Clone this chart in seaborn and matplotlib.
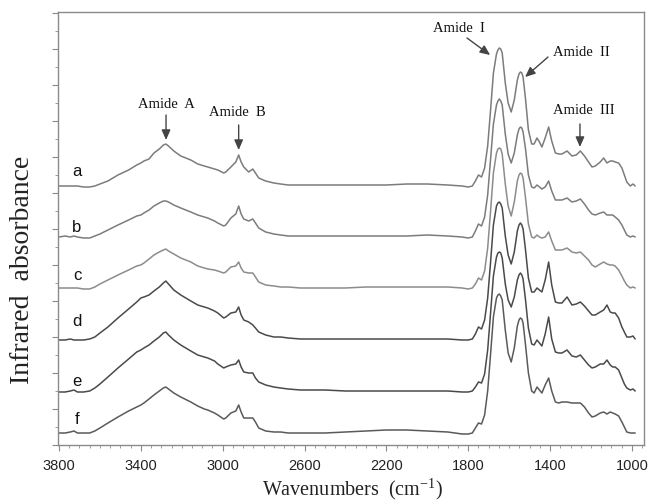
import numpy as np
import pandas as pd
import matplotlib
matplotlib.use("Agg")
import matplotlib.pyplot as plt
from matplotlib.ticker import MultipleLocator, NullFormatter
import seaborn as sns

# Wavenumber grid (cm-1) shared by all spectra
wavenumber = [
    3800, 3770, 3745, 3727, 3710, 3680, 3650, 3625, 3600, 3561, 3512, 3460, 3420, 3400, 3385,
    3360, 3336, 3310, 3290, 3278, 3265, 3239, 3205, 3156, 3122, 3090, 3073, 3040, 3024, 2995,
    2985, 2960, 2936, 2922, 2910, 2897, 2873, 2853, 2840, 2824, 2790, 2750, 2717, 2680, 2620,
    2500, 2400, 2300, 2200, 2100, 2000, 1900, 1830,
    1800, 1780, 1765, 1750, 1735, 1720, 1705, 1692, 1677, 1662, 1655, 1648, 1641, 1634, 1619,
    1605, 1590, 1575, 1560, 1552, 1545, 1538, 1532, 1520, 1506, 1490, 1478, 1464, 1452, 1440,
    1424, 1407, 1392, 1374, 1358, 1342, 1317, 1293, 1272, 1252, 1232, 1212, 1195, 1179, 1155,
    1138, 1122, 1106, 1094, 1082, 1065, 1049, 1037, 1025, 1008, 995, 984,
]

# Absorbance of each sample (arbitrary units)
spec_a = [
    0, 0, 0, 0, 0, -1, -1, 0, 2, 5, 11, 16, 21, 23, 25,
    27, 33, 37, 41, 42, 40, 35, 30, 26, 22, 20, 19, 17, 16, 13,
    14, 19, 24, 31, 24, 19, 14, 17, 13, 8, 5, 3, 2, 1, 1,
    1, 1, 1, 1, 2, 2, 1, 0,
    -1, 0, 5, 11, 9, 18, 40, 73, 113, 132, 136, 138, 137, 133, 103,
    83, 74, 86, 106, 112, 114, 113, 109, 87, 56, 42, 42, 48, 44, 39,
    48, 59, 45, 33, 32, 32, 35, 30, 31, 35, 30, 24, 19, 20, 24,
    28, 23, 25, 25, 24, 23, 18, 11, 4, 0, 2, 0,
]
spec_b = [
    0, 1, 0, 1, 0, -1, -1, 1, 3, 7, 12, 17, 21, 22, 24,
    27, 31, 34, 36, 36, 35, 32, 29, 25, 22, 20, 19, 16, 14, 11,
    12, 19, 23, 31, 23, 18, 16, 18, 14, 9, 5, 3, 2, 1, 1,
    1, 1, 1, 1, 1, 2, 1, 0,
    -1, 0, 6, 13, 11, 20, 42, 75, 113, 132, 136, 138, 136, 132, 103,
    83, 74, 84, 102, 108, 110, 109, 105, 88, 62, 50, 49, 52, 50, 48,
    50, 56, 46, 37, 37, 37, 39, 35, 36, 38, 33, 27, 23, 22, 24,
    25, 22, 22, 22, 20, 17, 12, 7, 2, 0, 1, 0,
]
spec_c = [
    0, 0, 0, 0, 0, -1, -1, 1, 4, 8, 13, 18, 22, 23, 25,
    29, 33, 36, 38, 39, 37, 34, 30, 26, 22, 20, 19, 18, 17, 15,
    16, 21, 22, 26, 20, 16, 15, 15, 11, 6, 3, 2, 1, 1, 0,
    0, 0, 1, 1, 1, 1, 1, 0,
    -1, 0, 4, 10, 8, 17, 40, 74, 115, 135, 139, 140, 139, 134, 104,
    82, 72, 86, 107, 113, 115, 114, 110, 90, 64, 51, 50, 53, 51, 50,
    51, 56, 47, 38, 38, 38, 40, 36, 35, 36, 32, 28, 23, 21, 24,
    26, 24, 23, 23, 22, 18, 12, 7, 3, 0, 1, 0,
]
spec_d = [
    0, 0, 1, 0, 0, 0, 1, 3, 7, 13, 22, 31, 38, 42, 43,
    45, 49, 53, 57, 59, 56, 50, 45, 39, 35, 33, 32, 29, 27, 22,
    23, 27, 28, 33, 25, 20, 18, 15, 12, 8, 5, 3, 3, 2, 1,
    1, 1, 1, 1, 1, 1, 1, 0,
    0, 1, 6, 13, 11, 20, 42, 75, 115, 134, 137, 138, 136, 132, 104,
    85, 76, 88, 109, 115, 117, 115, 111, 90, 62, 48, 48, 52, 50, 48,
    60, 78, 55, 38, 37, 37, 43, 35, 36, 38, 34, 29, 25, 25, 28,
    30, 35, 28, 27, 27, 22, 13, 8, 3, 3, 4, 1,
]
spec_e = [
    0, 0, 1, 2, 0, 0, 1, 4, 8, 15, 24, 33, 40, 42, 44,
    47, 51, 55, 59, 60, 57, 52, 47, 41, 37, 35, 34, 31, 28, 24,
    25, 27, 28, 32, 25, 20, 19, 19, 14, 10, 7, 5, 4, 3, 2,
    2, 1, 1, 1, 1, 1, 1, 0,
    0, 1, 5, 10, 9, 18, 42, 76, 116, 135, 139, 140, 139, 134, 108,
    92, 85, 95, 112, 117, 119, 117, 113, 92, 64, 48, 47, 52, 49, 46,
    58, 75, 53, 40, 39, 39, 42, 36, 35, 37, 32, 27, 24, 25, 28,
    28, 32, 27, 25, 25, 22, 14, 8, 4, 2, 3, 1,
]
spec_f = [
    0, 0, 1, 2, 0, 0, 0, 2, 5, 10, 16, 22, 26, 28, 30,
    34, 38, 42, 45, 46, 44, 40, 36, 31, 27, 24, 23, 20, 18, 14,
    15, 20, 22, 28, 21, 15, 15, 15, 11, 5, 2, 1, 1, 0, 0,
    0, 1, 2, 3, 3, 2, 1, -1,
    -1, 0, 5, 10, 9, 18, 42, 76, 116, 135, 138, 139, 137, 133, 103,
    80, 71, 85, 107, 113, 115, 114, 110, 88, 60, 42, 40, 46, 43, 40,
    48, 55, 42, 31, 30, 31, 31, 30, 30, 30, 26, 20, 16, 17, 20,
    21, 19, 21, 20, 19, 17, 11, 6, 1, 0, 0, 0,
]

samples = ["a", "b", "c", "d", "e", "f"]
spectra = [spec_a, spec_b, spec_c, spec_d, spec_e, spec_f]
# vertical stacking of the traces
offsets = [259, 208, 157, 105, 53, 12]
colors = ["#7c7c7c", "#7c7c7c", "#8c8c8c", "#4a4a4a", "#4a4a4a", "#5a5a5a"]

frames = []
for name, spec, off in zip(samples, spectra, offsets):
    frames.append(pd.DataFrame({
        "wavenumber": wavenumber,
        "absorbance": np.asarray(spec, dtype=float) + off,
        "sample": name,
    }))
df = pd.concat(frames, ignore_index=True)

sns.set_theme(style="ticks")
plt.rcParams["font.family"] = ["Liberation Sans", "DejaVu Sans"]

fig = plt.figure(figsize=(6.57, 5.03), dpi=100)
ax = fig.add_axes([58 / 657, 58 / 503, 586 / 657, 433 / 503])

sns.lineplot(data=df, x="wavenumber", y="absorbance", hue="sample",
             palette=dict(zip(samples, colors)), sort=False, estimator=None,
             legend=False, linewidth=1.1, ax=ax)

ax.set_xlim(3805, 941)
ax.set_ylim(0, 433)
ax.xaxis.set_major_locator(MultipleLocator(400))
ax.xaxis.set_minor_locator(MultipleLocator(50))
ax.yaxis.set_major_locator(MultipleLocator(36))
ax.yaxis.set_minor_locator(MultipleLocator(18))
ax.yaxis.set_major_formatter(NullFormatter())
ax.set_xticks([3800, 3400, 3000, 2600, 2200, 1800, 1400, 1000])

for s in ax.spines.values():
    s.set_visible(True)
    s.set_color("#8a8a8a")
    s.set_linewidth(1.0)
ax.tick_params(axis="both", which="major", direction="out", length=4, width=0.8,
               color="#8a8a8a", labelsize=10.5, labelcolor="#222222", pad=6)
ax.tick_params(axis="both", which="minor", direction="out", length=2, width=0.6,
               color="#8a8a8a")

serif = ["Liberation Serif", "DejaVu Serif"]
ax.set_xlabel(r"Wavenumbers  (cm$^{\mathregular{-1}}$)", family=serif, fontsize=14.5,
              color="#222222")
ax.xaxis.set_label_coords(0.502, -0.072)
ax.set_ylabel("Infrared  absorbance", family=serif, fontsize=20, color="#222222")
ax.yaxis.set_label_coords(-0.040, 0.404)

# sample letters
label_y = [274, 218, 170, 123, 63, 25]
for name, yl in zip(samples, label_y):
    ax.text(3712, yl, name, fontsize=12, ha="center", va="center", color="#111111")

# band annotations
arrow = dict(arrowstyle="-|>,head_length=0.5,head_width=0.22", color="#444444", lw=1.0,
             shrinkA=0, shrinkB=0)
ann = dict(family=serif, fontsize=10.5, color="#111111", ha="center", va="center")
ax.annotate("", xy=(3277, 305), xytext=(3277, 330), arrowprops=arrow)
ax.text(3277, 340, "Amide  A", **ann)
ax.annotate("", xy=(2922, 295), xytext=(2922, 320), arrowprops=arrow)
ax.text(2930, 332, "Amide  B", **ann)
ax.annotate("", xy=(1693, 390), xytext=(1806, 407), arrowprops=arrow)
ax.text(1845, 417, "Amide  I", **ann)
ax.annotate("", xy=(1522, 368), xytext=(1410, 388), arrowprops=arrow)
ax.text(1245, 393, "Amide  II", **ann)
ax.annotate("", xy=(1254, 298), xytext=(1254, 321), arrowprops=arrow)
ax.text(1234, 335, "Amide  III", **ann)

fig.savefig("out.png", dpi=100)
